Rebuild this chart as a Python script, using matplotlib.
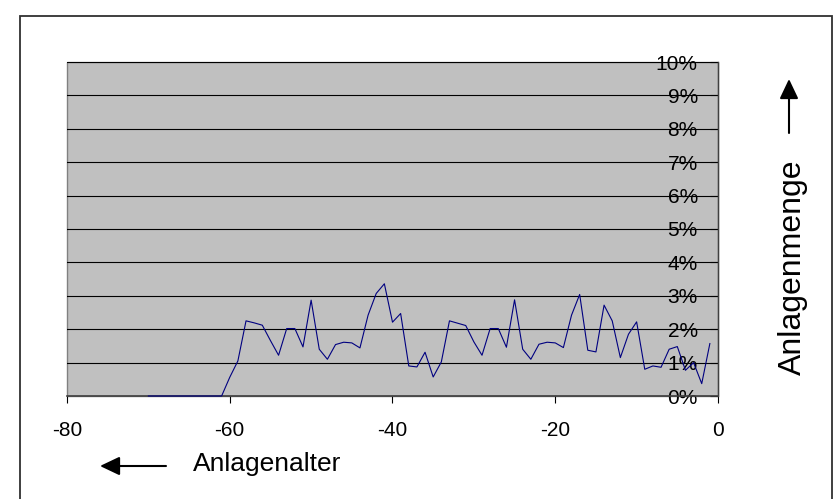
import matplotlib
matplotlib.use("Agg")
import matplotlib.pyplot as plt
from matplotlib.patches import Rectangle, FancyArrowPatch

plt.rcParams['font.family'] = ['Liberation Sans', 'DejaVu Sans']

# Data
age = list(range(-70, 0))
share = [0.0, 0.0, 0.0, 0.0, 0.0, 0.0, 0.0, 0.0, 0.0, 0.0,          # -70..-61
         0.56, 1.05, 2.25, 2.19, 2.12, 1.66, 1.22, 2.02, 2.02, 1.47,  # -60..-51
         2.87, 1.40, 1.10, 1.54, 1.61, 1.59, 1.44, 2.42, 3.07, 3.36,  # -50..-41
         2.21, 2.47, 0.90, 0.87, 1.31, 0.57, 1.02, 2.25, 2.18, 2.11,  # -40..-31
         1.62, 1.22, 2.02, 2.02, 1.46, 2.88, 1.40, 1.10, 1.55, 1.61,  # -30..-21
         1.59, 1.45, 2.42, 3.04, 1.37, 1.32, 2.72, 2.25, 1.15, 1.85,  # -20..-11
         2.22, 0.80, 0.90, 0.86, 1.40, 1.48, 0.77, 1.00, 0.37, 1.57]  # -10..-1
share = [v / 100 for v in share]
x_ticks = [-80, -60, -40, -20, 0]
x_ticklabels = ['-80', '-60', '-40', '-20', '0']
y_ticks = [i / 100 for i in range(0, 11)]
y_ticklabels = [f'{i}%' for i in range(0, 11)]
x_label = 'Anlagenalter'
y_label = 'Anlagenmenge'

W, H = 834, 499
fig = plt.figure(figsize=(W / 100, H / 100), dpi=100)

def fx(px):
    return px / W

def fy(py):
    return 1 - py / H

# outer chart border
fig.add_artist(Rectangle((fx(20), fy(505)), fx(832) - fx(20), fy(16) - fy(505),
                         transform=fig.transFigure, fill=False,
                         edgecolor='#303030', linewidth=1.3))

ax = fig.add_axes([fx(67), fy(396), fx(718) - fx(67), fy(62) - fy(396)])
ax.set_facecolor('#C0C0C0')
ax.patch.set_edgecolor('#808080')
ax.patch.set_linewidth(1.0)

ax.plot(age, share, color='#000080', linewidth=0.8, zorder=3, clip_on=False)

ax.set_xlim(-80, 0)
ax.set_ylim(0, 0.10)

ax.spines['right'].set_visible(False)
ax.spines['top'].set_visible(False)
ax.spines['left'].set_position(('data', 0))
ax.spines['left'].set_color('#404040')
ax.spines['left'].set_linewidth(1.0)
ax.spines['bottom'].set_color('#404040')
ax.spines['bottom'].set_linewidth(1.2)

ax.set_xticks(x_ticks)
ax.set_xticklabels(x_ticklabels)
ax.set_yticks(y_ticks)
ax.set_yticklabels(y_ticklabels)
ax.yaxis.set_ticks_position('left')
ax.xaxis.set_ticks_position('bottom')
ax.tick_params(axis='x', direction='out', length=5, width=0.8, pad=13,
               labelsize=15, colors='black')
ax.tick_params(axis='y', direction='out', length=6, width=0.8, pad=8.5,
               labelsize=15, colors='black')
ax.yaxis.grid(True, color='black', linewidth=0.8, zorder=1)
ax.set_axisbelow(True)

fig.text(fx(193), fy(471.5), x_label, fontsize=19, ha='left', va='baseline')
fig.text(fx(793), fy(267), y_label, fontsize=23, ha='center', va='center',
         rotation=90)

# arrows
fig.add_artist(FancyArrowPatch((fx(166), fy(466)), (fx(100), fy(466)),
                               transform=fig.transFigure,
                               arrowstyle='-|>,head_length=0.8,head_width=0.38',
                               mutation_scale=15, color='black', linewidth=1.5,
                               shrinkA=0, shrinkB=0))
fig.add_artist(FancyArrowPatch((fx(789), fy(133)), (fx(789), fy(79)),
                               transform=fig.transFigure,
                               arrowstyle='-|>,head_length=0.8,head_width=0.38',
                               mutation_scale=15, color='black', linewidth=1.5,
                               shrinkA=0, shrinkB=0))

fig.savefig('out.png', dpi=100)
